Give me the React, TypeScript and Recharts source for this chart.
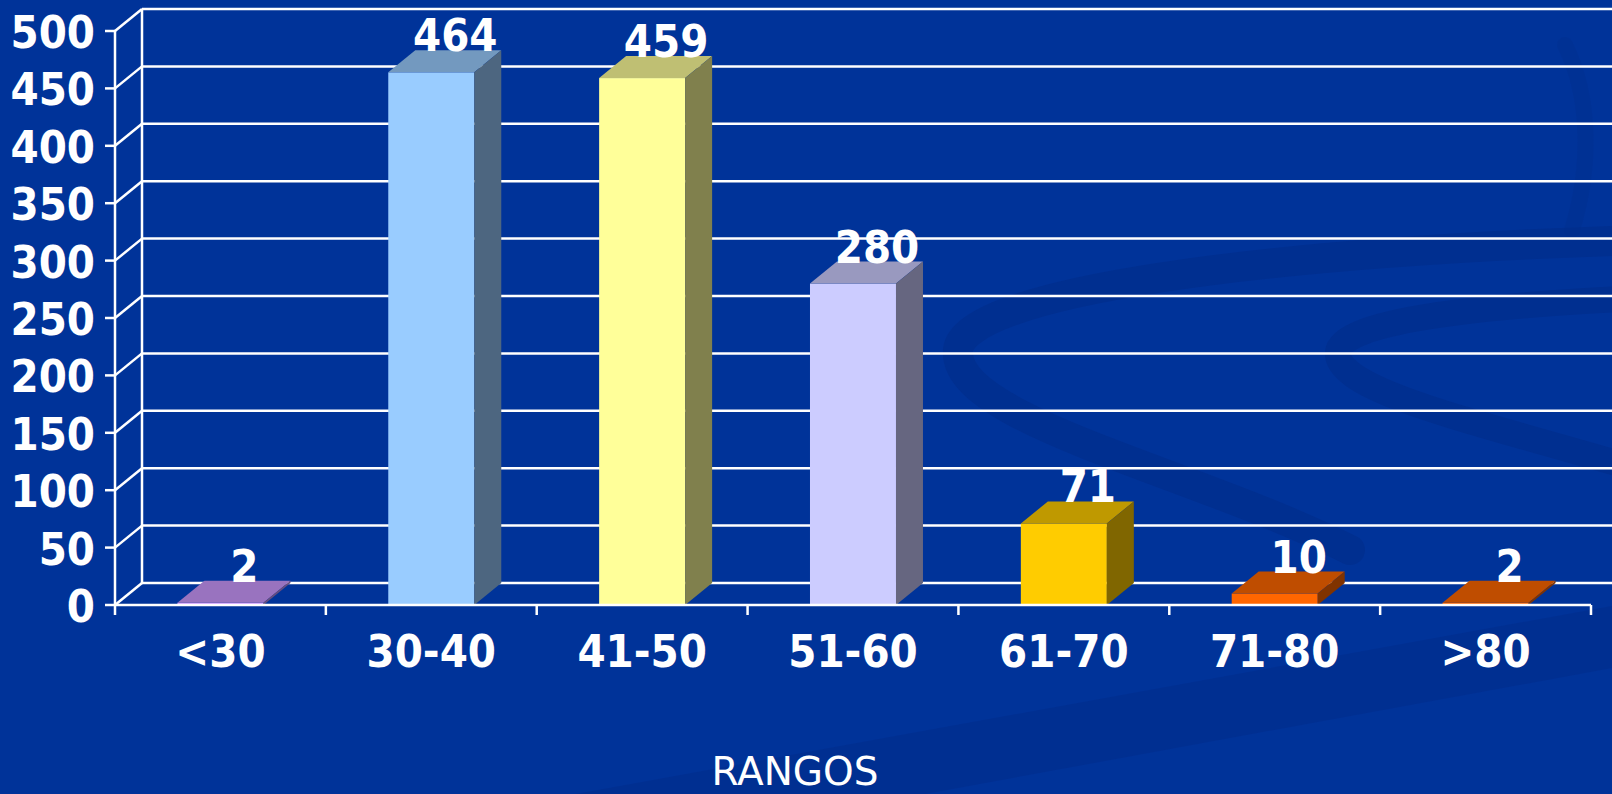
import { BarChart, Bar, XAxis, YAxis, CartesianGrid, LabelList, Label } from 'recharts'

const categories = ['<30', '30-40', '41-50', '51-60', '61-70', '71-80', '>80']
const counts = [2, 464, 459, 280, 71, 10, 2]
const barColors = ['#CC99FF', '#99CCFF', '#FFFF99', '#CCCCFF', '#FFCC00', '#FF6600', '#FF6600']
const yTicks = [0, 50, 100, 150, 200, 250, 300, 350, 400, 450, 500]

const data = categories.map((name, i) => ({ name, value: counts[i], color: barColors[i] }))

const W = 1612
const H = 794
const DX = 27
const DY = 22
const FONT = "'DejaVu Sans Condensed', 'DejaVu Sans', sans-serif"

function shade(hex: string, f: number) {
  const n = parseInt(hex.slice(1), 16)
  const r = Math.round(((n >> 16) & 255) * f)
  const g = Math.round(((n >> 8) & 255) * f)
  const b = Math.round((n & 255) * f)
  return `rgb(${r},${g},${b})`
}

function Bar3D(props: any) {
  const { x, y, width, height, payload } = props
  const c = payload.color
  const top = `${x},${y} ${x + DX},${y - DY} ${x + width + DX},${y - DY} ${x + width},${y}`
  const side = `${x + width},${y} ${x + width + DX},${y - DY} ${x + width + DX},${y + height - DY} ${x + width},${y + height}`
  return (
    <g>
      <rect x={x} y={y} width={width} height={height} fill={c} />
      <polygon points={top} fill={shade(c, 0.75)} />
      <polygon points={side} fill={shade(c, 0.5)} />
    </g>
  )
}

function gridLine(p: any) {
  const { x1, y1, index } = p
  return (
    <g key={p.key}>
      <line x1={x1} y1={y1} x2={x1 + DX} y2={y1 - DY} stroke="#fff" strokeWidth={2.5} />
      <line x1={x1 + DX} y1={y1 - DY} x2={W} y2={y1 - DY} stroke="#fff" strokeWidth={2.5} />
      {index === 0 && p.y != null && p.height != null && (
        <line x1={x1 + DX} y1={p.y - DY} x2={x1 + DX} y2={p.y + p.height - DY} stroke="#fff" strokeWidth={2.5} />
      )}
    </g>
  )
}

function YTick({ x, y, payload }: any) {
  return (
    <text x={x} y={y + 17} textAnchor="end" fill="#fff" fontSize={45} fontWeight="bold" fontFamily={FONT}>
      {payload.value}
    </text>
  )
}

function XTick({ x, y, payload, index }: any) {
  const off = payload.offset ?? 0
  return (
    <g>
      <line x1={x - off} y1={y - 10} x2={x - off} y2={y} stroke="#fff" strokeWidth={2.5} />
      {index === categories.length - 1 && (
        <line x1={x + off} y1={y - 10} x2={x + off} y2={y} stroke="#fff" strokeWidth={2.5} />
      )}
      <text x={x} y={y + 52} textAnchor="middle" fill="#fff" fontSize={45} fontWeight="bold" fontFamily={FONT}>
        {payload.value}
      </text>
    </g>
  )
}

function ValueLabel(props: any) {
  const vb = props.viewBox ?? props
  const x = vb.x ?? props.x
  const y = vb.y ?? props.y
  const w = vb.width ?? props.width
  return (
    <text x={x + w / 2 + 24} y={y - DY + 1} textAnchor="middle" fill="#fff" fontSize={45} fontWeight="bold" fontFamily={FONT}>
      {props.value}
    </text>
  )
}

export default function App() {
  return (
    <div style={{ position: 'absolute', left: 0, top: 0, width: W, height: H, background: '#003399', overflow: 'hidden' }}>
      <svg width={W} height={H} style={{ position: 'absolute', left: 0, top: 0 }}>
        <g fill="none" stroke="#002d8c" strokeLinecap="round">
          <path d="M 1640 240 C 1260 252, 965 292, 958 350 C 952 420, 1190 470, 1350 550" strokeWidth={30} opacity={0.7} />
          <path d="M 1640 298 C 1470 306, 1342 322, 1338 352 C 1334 392, 1490 425, 1640 470" strokeWidth={26} opacity={0.7} />
          <path d="M 1565 45 C 1590 95, 1592 165, 1572 230" strokeWidth={16} opacity={0.3} />
        </g>
        <polygon points="576,794 1612,606 1612,668 925,794" fill="#002d8c" opacity={0.6} />
      </svg>
      <div style={{ position: 'absolute', left: 0, top: 0 }}>
        <BarChart width={W} height={H} data={data} margin={{ top: 31, right: 21, left: 0, bottom: 0 }} barCategoryGap="29.6%">
          <CartesianGrid horizontal={gridLine} vertical={false} />
          <YAxis
            type="number"
            domain={[0, 500]}
            ticks={yTicks}
            width={115}
            interval={0}
            axisLine={{ stroke: '#fff', strokeWidth: 2.5 }}
            tickLine={{ stroke: '#fff', strokeWidth: 2.5 }}
            tickSize={10}
            tickMargin={10}
            tick={<YTick />}
          />
          <XAxis
            dataKey="name"
            height={189}
            interval={0}
            axisLine={{ stroke: '#fff', strokeWidth: 2.5 }}
            tickLine={false}
            tickSize={10}
            tickMargin={0}
            tick={<XTick />}
          >
            <Label
              content={({ viewBox }: any) => (
                <text x={viewBox.x + viewBox.width / 2 - 58} y={viewBox.y + 180} textAnchor="middle" fill="#fff" fontSize={39} fontFamily="'DejaVu Sans', sans-serif">
                  RANGOS
                </text>
              )}
            />
          </XAxis>
          <Bar dataKey="value" shape={<Bar3D />} isAnimationActive={false}>
            <LabelList dataKey="value" content={<ValueLabel />} />
          </Bar>
        </BarChart>
      </div>
    </div>
  )
}
